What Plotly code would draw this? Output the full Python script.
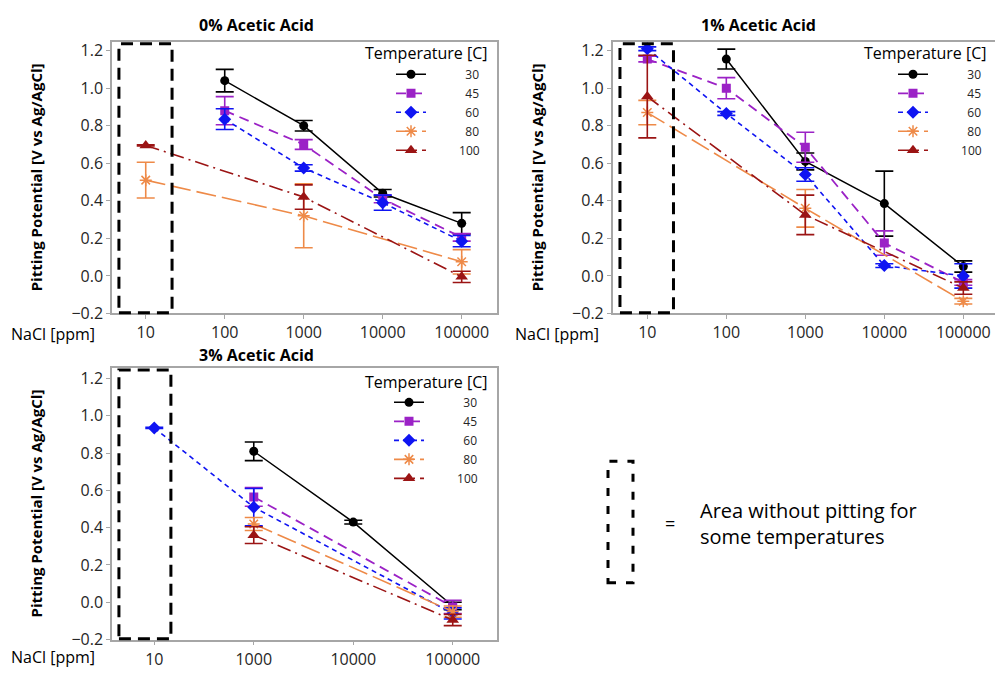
import plotly.graph_objects as go

W, H = 995, 677

# ---------------- data ----------------
temps = ["30", "45", "60", "80", "100"]

nacl_0 = ["10", "100", "1000", "10000", "100000"]
nacl_1 = ["10", "100", "1000", "10000", "100000"]
nacl_3 = ["10", "1000", "10000", "100000"]

# 0% acetic acid
aa0_30 = [None, 1.04, 0.80, 0.44, 0.28]
aa0_30_err = [0, 0.06, 0.028, 0.02, 0.057]
aa0_45 = [None, 0.88, 0.70, 0.41, 0.205]
aa0_45_err = [0, 0.075, 0.026, 0.02, 0.02]
aa0_60 = [None, 0.835, 0.575, 0.39, 0.185]
aa0_60_err = [0, 0.055, 0.017, 0.04, 0.03]
aa0_80 = [0.51, None, 0.32, None, 0.075]
aa0_80_err = [0.095, 0, 0.17, 0, 0.065]
aa0_100 = [0.695, None, 0.42, None, -0.005]
aa0_100_err = [0.003, 0, 0.065, 0, 0.03]

# 1% acetic acid
aa1_30 = [None, 1.155, 0.61, 0.385, 0.05]
aa1_30_err = [0, 0.053, 0.045, 0.173, 0.03]
aa1_45 = [1.155, 1.0, 0.685, 0.175, -0.035]
aa1_45_err = [0.015, 0.056, 0.08, 0.065, 0.015]
aa1_60 = [1.21, 0.865, 0.54, 0.055, 0.0]
aa1_60_err = [0.01, 0.01, 0.036, 0.01, 0.065]
aa1_80 = [0.87, None, 0.36, None, -0.135]
aa1_80_err = [0.065, 0, 0.1, 0, 0.015]
aa1_100 = [0.955, None, 0.325, None, -0.065]
aa1_100_err = [0.22, 0, 0.105, 0, 0.033]

# 3% acetic acid
aa3_30 = [None, 0.81, 0.43, -0.02]
aa3_30_err = [0, 0.05, 0.01, 0.02]
aa3_45 = [None, 0.565, None, -0.025]
aa3_45_err = [0, 0.05, 0, 0.035]
aa3_60 = [0.935, 0.51, None, -0.06]
aa3_60_err = [0.003, 0.1, 0, 0.03]
aa3_80 = [None, 0.42, None, -0.05]
aa3_80_err = [0, 0.035, 0, 0.03]
aa3_100 = [None, 0.36, None, -0.095]
aa3_100_err = [0, 0.045, 0, 0.03]

panel_titles = ["0% Acetic Acid", "1% Acetic Acid", "3% Acetic Acid"]
y_title = "Pitting Potential [V vs Ag/AgCl]"
x_title = "NaCl [ppm]"
legend_title = "Temperature [C]"
note_text = "Area without pitting for<br>some temperatures"

# ---------------- styles ----------------
FONT = "Open Sans"
styles = {
    "30": dict(color="#000000", dash="solid", symbol="circle", size=9, width=1.5),
    "45": dict(color="#9b22c6", dash="10px,6px", symbol="square", size=9, width=1.8),
    "60": dict(color="#0f14f2", dash="5px,4px", symbol="diamond", size=10, width=1.6),
    "80": dict(color="#ee8a48", dash="20px,6px", symbol="asterisk-open", size=10, width=1.6),
    "100": dict(color="#9b1414", dash="14px,5px,2px,5px", symbol="triangle-up", size=11, width=1.6),
}
NBSP = "\u00a0"


def px_x(p):
    return p / W


def px_y(p):
    return 1 - p / H


fig = go.Figure()

panels = [
    ("x", "y", "legend", nacl_0,
     [(aa0_30, aa0_30_err), (aa0_45, aa0_45_err), (aa0_60, aa0_60_err), (aa0_80, aa0_80_err), (aa0_100, aa0_100_err)]),
    ("x2", "y2", "legend2", nacl_1,
     [(aa1_30, aa1_30_err), (aa1_45, aa1_45_err), (aa1_60, aa1_60_err), (aa1_80, aa1_80_err), (aa1_100, aa1_100_err)]),
    ("x3", "y3", "legend3", nacl_3,
     [(aa3_30, aa3_30_err), (aa3_45, aa3_45_err), (aa3_60, aa3_60_err), (aa3_80, aa3_80_err), (aa3_100, aa3_100_err)]),
]

for xa, ya, lg, cats, series in panels:
    for t, (vals, errs) in zip(temps, series):
        s = styles[t]
        pad = NBSP * (11 if len(t) == 2 else 9)
        fig.add_trace(go.Scatter(
            x=cats, y=vals, xaxis=xa, yaxis=ya, legend=lg,
            name=pad + t, mode="lines+markers", connectgaps=True,
            line=dict(color=s["color"], width=s["width"], dash=s["dash"]),
            marker=dict(symbol=s["symbol"], size=s["size"], color=s["color"],
                        line=dict(color=s["color"], width=1.5 if "open" in s["symbol"] else 0)),
            error_y=dict(type="data", array=errs, visible=True, color=s["color"],
                         thickness=1.6, width=9),
        ))

axis_common = dict(showgrid=False, zeroline=False, showline=True, linecolor="#a6a6a6",
                   linewidth=1.5, ticks="outside", ticklen=4, tickcolor="#a6a6a6",
                   tickfont=dict(family=FONT, size=16, color="#262626"))

yaxis_common = dict(axis_common, tickmode="linear", tick0=-0.2, dtick=0.2, tickformat=".1f")

# plot area pixel boxes
p1 = (112, 497, 40, 317)
p2 = (612.7, 995, 40, 317)
p3 = (112, 497, 373, 650)

fig.update_layout(
    width=W, height=H, autosize=False,
    margin=dict(l=0, r=0, t=0, b=0),
    paper_bgcolor="white", plot_bgcolor="white",
    font=dict(family=FONT, color="#262626"),
    xaxis=dict(axis_common, type="category", categoryorder="array", categoryarray=nacl_0,
               domain=[px_x(p1[0]), px_x(p1[1])], range=[-0.427, 4.447], mirror=True, anchor="y"),
    yaxis=dict(yaxis_common, domain=[px_y(p1[3]), px_y(p1[2])], range=[-0.2, 1.245], mirror=True, anchor="x"),
    xaxis2=dict(axis_common, type="category", categoryorder="array", categoryarray=nacl_1,
                domain=[px_x(p2[0]), 1.0], range=[-0.438, 4.401], mirror=True, anchor="y2"),
    yaxis2=dict(yaxis_common, domain=[px_y(p2[3]), px_y(p2[2])], range=[-0.2, 1.245], anchor="x2"),
    xaxis3=dict(axis_common, type="category", categoryorder="array", categoryarray=nacl_3,
                domain=[px_x(p3[0]), px_x(p3[1])], range=[-0.425, 3.445], mirror=True, anchor="y3"),
    yaxis3=dict(yaxis_common, domain=[px_y(p3[3]), px_y(p3[2])], range=[-0.2, 1.255], mirror=True, anchor="x3"),
)

leg_common = dict(xanchor="left", yanchor="top", bgcolor="rgba(0,0,0,0)",
                  font=dict(family=FONT, size=12, color="#262626"),
                  tracegroupgap=0, itemwidth=30, borderwidth=0)
fig.update_layout(
    legend=dict(leg_common, x=px_x(391), y=px_y(58)),
    legend2=dict(leg_common, x=px_x(893), y=px_y(58)),
    legend3=dict(leg_common, x=px_x(389), y=px_y(393)),
)

# dashed "no pitting" boxes
for xr, yr, x0, x1 in [("x domain", "y domain", 0.018, 0.156),
                       ("x2 domain", "y2 domain", 0.019, 0.159),
                       ("x3 domain", "y3 domain", 0.018, 0.153)]:
    fig.add_shape(type="rect", xref=xr, yref=yr, x0=x0, x1=x1, y0=0.003, y1=0.994,
                  line=dict(color="black", width=3, dash="12px,7px"), layer="above")

# note box
fig.add_shape(type="rect", xref="paper", yref="paper", x0=px_x(608), x1=px_x(633),
              y0=px_y(592), y1=px_y(468), line=dict(color="black", width=3, dash="8px,10px"))

ann = []
# panel titles
for txt, cx, cy in [(panel_titles[0], 256, 22), (panel_titles[1], 758, 22), (panel_titles[2], 256, 359)]:
    ann.append(dict(text="<b>%s</b>" % txt, x=px_x(cx), y=px_y(cy), xref="paper", yref="paper",
                    xanchor="center", yanchor="middle", showarrow=False,
                    font=dict(family=FONT, size=16, color="black")))
# y titles
for cx, cy in [(36, 178), (537, 178), (36, 511)]:
    ann.append(dict(text="<b>%s</b>" % y_title, x=px_x(cx), y=px_y(cy), xref="paper", yref="paper",
                    xanchor="center", yanchor="middle", textangle=-90, showarrow=False,
                    font=dict(family=FONT, size=15, color="black")))
# x titles
for lx, cy in [(9, 338), (513, 338), (9, 668)]:
    ann.append(dict(text=x_title, x=px_x(lx), y=px_y(cy), xref="paper", yref="paper",
                    xanchor="left", yanchor="middle", showarrow=False,
                    font=dict(family=FONT, size=16, color="black")))
# legend titles
for lx, cy in [(363, 51), (862, 51), (363, 387)]:
    ann.append(dict(text=legend_title, x=px_x(lx), y=px_y(cy), xref="paper", yref="paper",
                    xanchor="left", yanchor="middle", showarrow=False,
                    font=dict(family=FONT, size=16, color="black")))
# note
ann.append(dict(text="=", x=px_x(670), y=px_y(531), xref="paper", yref="paper",
                xanchor="center", yanchor="middle", showarrow=False,
                font=dict(family=FONT, size=18, color="black")))
ann.append(dict(text=note_text, x=px_x(698), y=px_y(531), xref="paper", yref="paper",
                xanchor="left", yanchor="middle", align="left", showarrow=False,
                font=dict(family=FONT, size=20, color="black")))
fig.update_layout(annotations=ann)

fig.write_html("out.html", config={"displayModeBar": False},
               post_script="document.body.style.margin='0px';document.body.style.overflow='hidden';")
